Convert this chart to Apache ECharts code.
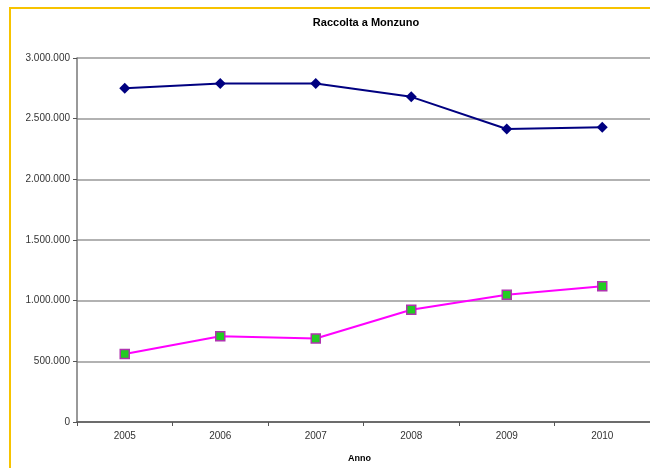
<!DOCTYPE html>
<html>
<head>
<meta charset="utf-8">
<script src="https://cdn.jsdelivr.net/npm/echarts@6/dist/echarts.min.js"></script>
<style>
html,body{margin:0;padding:0;background:#fff;}
#c{width:650px;height:468px;}
</style>
</head>
<body>
<div id="c"></div>
<script>
var years = ['2005','2006','2007','2008','2009','2010'];
var seriesBlue = [2750000, 2790000, 2790000, 2680000, 2415000, 2430000];
var seriesPink = [560000, 707000, 688000, 925000, 1048000, 1118000];
var yTicks = [0, 500000, 1000000, 1500000, 2000000, 2500000, 3000000];

function fmt(v){
  return String(v).replace(/\B(?=(\d{3})+(?!\d))/g, '.');
}

var chart = echarts.init(document.getElementById('c'));
chart.setOption({
  backgroundColor: '#fff',
  animation: false,
  title: {
    text: 'Raccolta a Monzuno',
    left: 361, top: 12, textAlign: 'center',
    textStyle: {fontFamily: 'Liberation Sans, Arial', fontSize: 11, fontWeight: 'bold', color: '#000'}
  },
  graphic: [{
    type: 'rect', silent: true,
    shape: {x: 10, y: 8, width: 700, height: 520},
    style: {fill: 'none', stroke: '#F7C300', lineWidth: 2}
  }],
  grid: {left: 77, top: 58, width: 578, height: 366, containLabel: false},
  xAxis: {
    type: 'category',
    data: years,
    boundaryGap: true,
    name: 'Anno',
    nameLocation: 'middle',
    nameGap: 32,
    nameTextStyle: {fontFamily: 'Liberation Sans, Arial', fontSize: 9, fontWeight: 'bold', color: '#000', padding: [0, 0, 0, -8]},
    axisLine: {lineStyle: {color: '#555', width: 1.5}},
    axisTick: {show: true, alignWithLabel: false, length: 4, lineStyle: {color: '#555'}},
    axisLabel: {fontFamily: 'Liberation Sans, Arial', fontSize: 10, color: '#333', margin: 9},
    splitLine: {show: false}
  },
  yAxis: {
    type: 'value',
    min: yTicks[0], max: yTicks[yTicks.length - 1], interval: 500000,
    axisLine: {show: true, lineStyle: {color: '#777', width: 1.5}},
    axisTick: {show: true, length: 4, lineStyle: {color: '#555'}},
    axisLabel: {fontFamily: 'Liberation Sans, Arial', fontSize: 10, color: '#333', margin: 7, formatter: fmt},
    splitLine: {show: true, lineStyle: {color: '#999', width: 1.5}}
  },
  series: [
    {
      type: 'line', data: seriesBlue,
      symbol: 'diamond', symbolSize: 11,
      lineStyle: {color: '#000080', width: 2},
      itemStyle: {color: '#000080'}
    },
    {
      type: 'line', data: seriesPink,
      symbol: 'rect', symbolSize: 9,
      lineStyle: {color: '#FF00FF', width: 2},
      itemStyle: {color: '#22CC22', borderColor: '#B033B0', borderWidth: 1.5}
    }
  ]
});
</script>
</body>
</html>
